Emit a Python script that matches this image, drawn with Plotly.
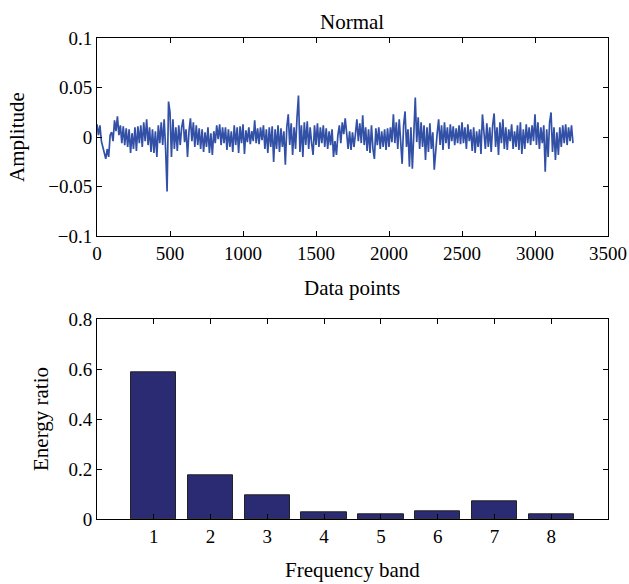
import numpy as np
import plotly.graph_objects as go

# ---------------- data ----------------
signal_step = 10  # sample spacing of the transcribed signal (data points)
amplitude = [
    0.013, 0.002, 0.012, -0.004, -0.010, -0.015, -0.022, -0.012, -0.020, 0.002,
    0.005, -0.004, 0.017, 0.006, 0.021, 0.002, 0.012, -0.006, 0.011, -0.008,
    0.009, -0.010, 0.008, -0.016, 0.004, -0.012, 0.010, -0.014, 0.011, -0.006,
    0.012, -0.010, 0.015, -0.004, 0.018, -0.008, 0.010, -0.015, 0.008, -0.016,
    0.006, -0.020, 0.012, -0.006, 0.015, -0.008, 0.018, -0.012, -0.055, 0.036,
    0.025, -0.020, 0.018, -0.012, 0.010, -0.014, 0.012, -0.008, 0.010, 0.018,
    -0.005, 0.008, -0.020, 0.006, 0.019, -0.004, 0.015, -0.010, 0.012, -0.008,
    0.009, -0.012, 0.008, -0.015, 0.005, -0.010, 0.010, -0.016, 0.004, -0.018,
    0.006, -0.006, 0.012, -0.002, 0.013, -0.008, 0.010, -0.006, 0.010, -0.013,
    0.008, -0.010, 0.006, -0.015, 0.012, -0.008, 0.010, -0.016, 0.011, -0.006,
    0.013, -0.017, 0.007, -0.005, 0.010, -0.007, 0.006, -0.004, 0.017, -0.006,
    0.009, -0.007, 0.010, -0.003, 0.012, -0.012, 0.008, -0.016, 0.010, -0.010,
    0.011, -0.025, 0.008, -0.012, 0.012, -0.015, 0.009, -0.010, 0.006, -0.028,
    0.010, 0.023, -0.008, 0.014, -0.018, 0.010, -0.012, 0.020, 0.042, -0.015,
    0.012, -0.020, 0.015, -0.008, 0.016, -0.012, 0.010, -0.006, -0.018, 0.012,
    -0.008, 0.014, -0.010, 0.010, -0.006, 0.012, -0.010, 0.009, -0.012, 0.006,
    -0.008, 0.008, -0.020, -0.004, -0.018, 0.002, 0.012, -0.006, 0.015, 0.003,
    0.019, 0.004, -0.012, 0.006, -0.013, 0.005, -0.010, 0.003, 0.018, -0.004,
    0.014, -0.006, 0.022, -0.008, 0.010, -0.014, 0.008, -0.016, 0.012, -0.012,
    -0.022, 0.009, -0.008, 0.010, -0.012, 0.006, -0.010, 0.008, -0.013, 0.009,
    -0.010, 0.010, -0.005, 0.023, -0.006, 0.015, -0.012, 0.018, -0.010, -0.027,
    0.012, 0.026, -0.010, 0.008, -0.030, 0.010, -0.032, 0.015, 0.040, -0.005,
    0.020, -0.012, 0.015, -0.010, 0.012, -0.023, 0.010, -0.015, 0.014, -0.012,
    0.005, -0.033, -0.010, 0.004, 0.018, -0.008, 0.012, -0.013, 0.015, -0.006,
    0.010, -0.012, 0.013, -0.004, 0.011, -0.008, 0.009, -0.006, 0.012, -0.007,
    0.015, -0.006, 0.010, -0.012, 0.013, -0.004, 0.008, -0.014, 0.010, -0.016,
    0.006, -0.010, 0.008, -0.017, 0.023, 0.002, -0.012, 0.014, -0.010, 0.010,
    -0.015, 0.012, 0.024, -0.010, 0.010, -0.018, 0.015, -0.006, 0.018, -0.012,
    0.010, -0.013, 0.008, -0.004, 0.013, -0.012, 0.006, -0.010, 0.012, -0.013,
    0.015, -0.017, 0.008, -0.012, 0.013, -0.006, 0.010, -0.008, 0.012, -0.004,
    0.023, -0.008, 0.015, -0.012, 0.010, -0.006, 0.012, -0.035, 0.008, -0.020,
    0.015, 0.025, -0.015, 0.010, -0.023, 0.005, -0.018, 0.010, -0.010, 0.012,
    -0.006, 0.013, -0.008, 0.010, -0.004, 0.012, -0.006,
]
data_points = np.arange(len(amplitude)) * signal_step

bands = [1, 2, 3, 4, 5, 6, 7, 8]
energy_ratio = [0.589, 0.177, 0.096, 0.028, 0.017, 0.029, 0.069, 0.017]

amp_ticks = [-0.1, -0.05, 0, 0.05, 0.1]
amp_ticktext = ["\u22120.1", "\u22120.05", "0", "0.05", "0.1"]
dp_ticks = [0, 500, 1000, 1500, 2000, 2500, 3000, 3500]
er_ticks = [0, 0.2, 0.4, 0.6, 0.8]
er_ticktext = ["0", "0.2", "0.4", "0.6", "0.8"]

# ---------------- figure ----------------
W, H = 629, 584
FONT = "Liberation Serif"
FS = 19
TFS = 21

fig = go.Figure()
fig.add_trace(go.Scatter(x=data_points, y=amplitude, mode="lines",
                         line=dict(color="#3150A6", width=1.7),
                         xaxis="x", yaxis="y", showlegend=False))
fig.add_trace(go.Bar(x=bands, y=energy_ratio, width=0.8,
                     marker=dict(color="#2A2B73", line=dict(color="#222222", width=1)),
                     xaxis="x2", yaxis="y2", showlegend=False))

xl, xr = 97 / W, 608 / W
axis_common = dict(showline=True, linecolor="black", linewidth=1, mirror="ticks",
                   ticks="inside", ticklen=5, tickcolor="black", showgrid=False,
                   zeroline=False, tickfont=dict(family=FONT, size=FS, color="black"))

fig.update_layout(
    width=W, height=H, margin=dict(l=0, r=0, t=0, b=0, autoexpand=False),
    paper_bgcolor="white", plot_bgcolor="white",
    font=dict(family=FONT, size=FS, color="black"),
    bargap=0,
    xaxis=dict(domain=[xl, xr], range=[0, 3500], tickvals=dp_ticks, anchor="y", **axis_common),
    yaxis=dict(domain=[1 - 236 / H, 1 - 38.3 / H], range=[-0.1, 0.1], tickvals=amp_ticks,
               ticktext=amp_ticktext, anchor="x", **axis_common),
    xaxis2=dict(domain=[xl, xr], range=[0, 9], tickvals=bands, anchor="y2", **axis_common),
    yaxis2=dict(domain=[1 - 519 / H, 1 - 319.3 / H], range=[0, 0.8], tickvals=er_ticks,
                ticktext=er_ticktext, anchor="x2", **axis_common),
)

def ann(text, x, y, angle=0):
    fig.add_annotation(text=text, x=x / W, y=1 - y / H, xref="paper", yref="paper",
                       showarrow=False, textangle=angle, xanchor="center", yanchor="middle",
                       font=dict(family=FONT, size=TFS, color="black"))

ann("Normal", 352, 22)
ann("Amplitude", 17, 137, -90)
ann("Data points", 352, 288)
ann("Energy ratio", 41, 419, -90)
ann("Frequency band", 352, 570)

fig.write_html("out.html", config={"displayModeBar": False},
               post_script="document.body.style.margin='0';document.body.style.overflow='hidden';")
